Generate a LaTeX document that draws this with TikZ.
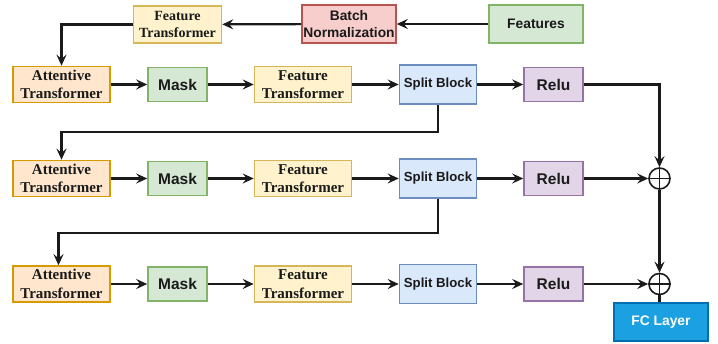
\documentclass[tikz,border=0pt]{standalone}
\usepackage{fontspec}
\setmainfont{Liberation Serif}
\setsansfont{Liberation Sans}
\usetikzlibrary{arrows.meta}
\definecolor{orF}{HTML}{FFE6CC}\definecolor{orD}{HTML}{D79B00}
\definecolor{grF}{HTML}{D5E8D4}\definecolor{grD}{HTML}{82B366}
\definecolor{yeF}{HTML}{FFF2CC}\definecolor{yeD}{HTML}{D6B656}
\definecolor{blF}{HTML}{DAE8FC}\definecolor{blD}{HTML}{6C8EBF}
\definecolor{puF}{HTML}{E1D5E7}\definecolor{puD}{HTML}{9673A6}
\definecolor{reF}{HTML}{F8CECC}\definecolor{reD}{HTML}{B85450}
\definecolor{fcF}{HTML}{1BA1E2}\definecolor{fcD}{HTML}{006EAF}
\definecolor{ink}{HTML}{1A1A1A}
\tikzset{
  box/.style={draw, line width=1.6pt, inner sep=0pt, align=center, text=ink},
  attbox/.style={box, fill=orF, draw=orD, minimum width=97pt, minimum height=36pt, font=\fontsize{15}{18.5}\selectfont\bfseries},
  maskbox/.style={box, fill=grF, draw=grD, minimum width=59pt, minimum height=34pt, font=\sffamily\bfseries\fontsize{15.5}{18}\selectfont},
  ftbox/.style={box, fill=yeF, draw=yeD, minimum width=97pt, minimum height=36pt, font=\fontsize{15}{18.5}\selectfont\bfseries},
  spbox/.style={box, fill=blF, draw=blD, minimum width=77pt, minimum height=39pt, font=\sffamily\bfseries\fontsize{13.2}{15}\selectfont},
  relubox/.style={box, fill=puF, draw=puD, minimum width=59pt, minimum height=34pt, font=\sffamily\bfseries\fontsize{15.5}{18}\selectfont},
  arr/.style={draw=ink, line width=2.2pt, -{Stealth[length=11pt,width=10pt,inset=4pt]}},
  ln/.style={draw=ink, line width=2.2pt},
  sumc/.style={circle, draw=ink, line width=1.6pt, minimum size=21pt, inner sep=0pt}
}
\begin{document}
\begin{tikzpicture}[x=1pt,y=-1pt]
\useasboundingbox (0,0) rectangle (718,344);
% top row
\node[box, fill=yeF, draw=yeD, minimum width=88pt, minimum height=37pt, font=\fontsize{14}{17}\selectfont\bfseries] (ft0) at (177.5,24.5) {Feature\\Transformer};
\node[box, fill=reF, draw=reD, minimum width=94pt, minimum height=38pt, font=\sffamily\bfseries\fontsize{13.8}{17}\selectfont] (bn) at (349,24) {Batch\\Normalization};
\node[box, fill=grF, draw=grD, minimum width=94pt, minimum height=38pt, font=\sffamily\bfseries\fontsize{13.8}{17}\selectfont] (feat) at (536,24) {Features};
% rows
\foreach \r/\y in {1/84.5,2/178.5,3/284} {
  \node[attbox] (att\r) at (61.5,\y) {Attentive\\Transformer};
  \node[maskbox] (mask\r) at (177.5,\y) {Mask};
  \node[ftbox] (ft\r) at (303,\y) {Feature\\Transformer};
  \node[spbox] (sp\r) at (438,\y) {Split Block};
  \node[relubox] (relu\r) at (553.5,\y) {Relu};
  \draw[arr] (att\r) -- (mask\r);
  \draw[arr] (mask\r) -- (ft\r);
  \draw[arr] (ft\r) -- (sp\r);
  \draw[arr] (sp\r) -- (relu\r);
}
\node[sumc] (c2) at (659.5,178.5) {};
\node[sumc] (c3) at (659.5,284) {};
\draw[ink, line width=1.6pt] (c2.north) -- (c2.south) (c2.west) -- (c2.east);
\draw[ink, line width=1.6pt] (c3.north) -- (c3.south) (c3.west) -- (c3.east);
\node[box, fill=fcF, draw=fcD, text=white, minimum width=94pt, minimum height=38pt, font=\sffamily\bfseries\fontsize{13.8}{17}\selectfont] (fc) at (661,322) {FC Layer};
% connectors
\draw[arr] (feat) -- (bn);
\draw[arr] (bn) -- (ft0);
\draw[arr] (ft0.west) -| (att1.north);
\draw[arr] (sp1.south) -- ++(0,27) -| (att2.north);
\draw[arr] (sp2.south) -- ++(0,34) -| ([xshift=-3pt]att3.north);
\draw[arr] (relu1.east) -| (c2.north);
\draw[arr] (relu2.east) -- (c2.west);
\draw[arr] (c2.south) -- (c3.north);
\draw[arr] (relu3.east) -- (c3.west);
\draw[ln] (c3.south) -- (fc.north -| c3.south);
\end{tikzpicture}
\end{document}
